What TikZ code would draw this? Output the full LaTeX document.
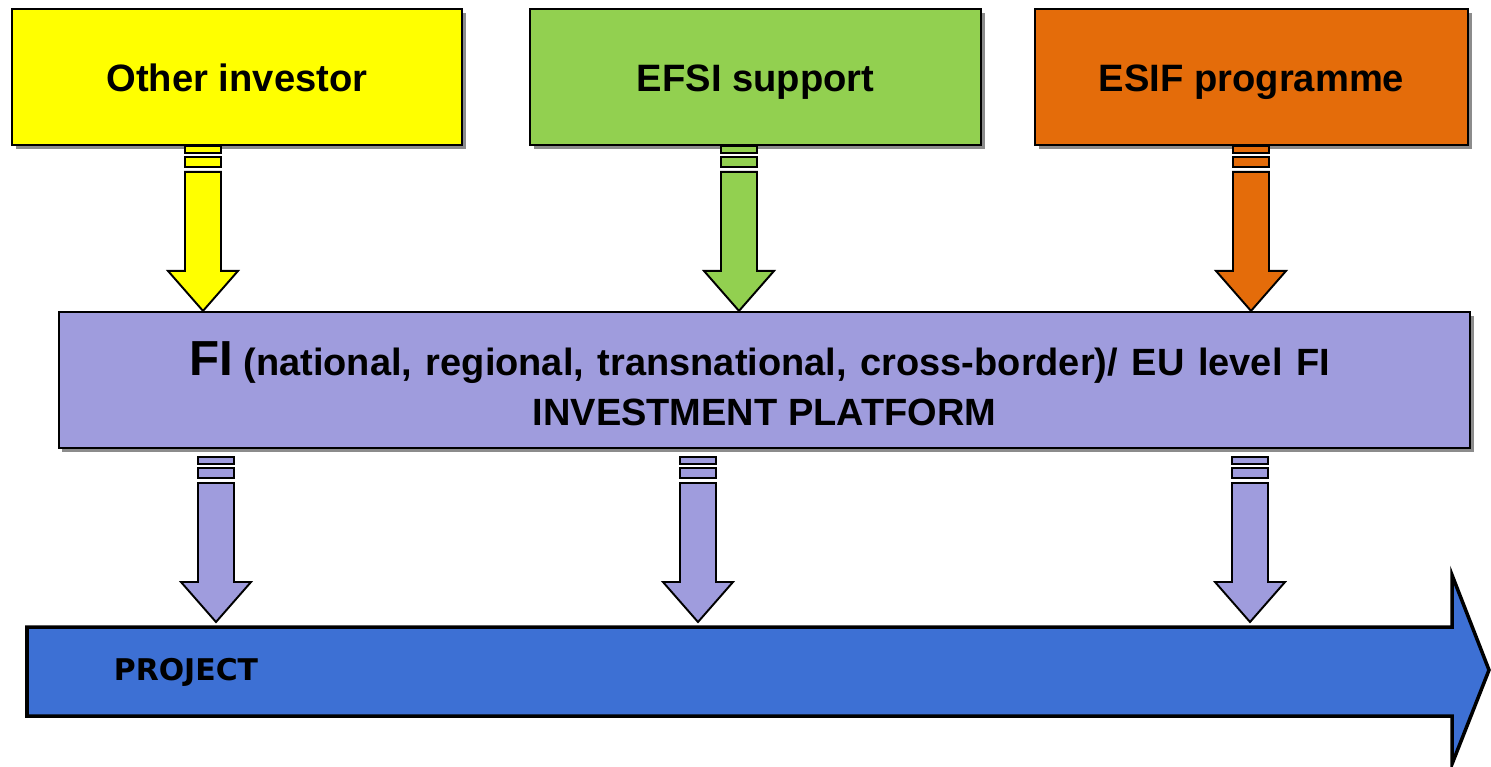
\documentclass[tikz,border=0pt]{standalone}
\usepackage{fontspec}
\setmainfont{Liberation Sans}
\newfontfamily\projfont{DejaVu Sans}
\usetikzlibrary{shadows}

\definecolor{investorcol}{RGB}{255,255,0}
\definecolor{efsicol}{RGB}{146,208,80}
\definecolor{esifcol}{RGB}{228,108,10}
\definecolor{platformcol}{RGB}{159,156,221}
\definecolor{projectcol}{RGB}{61,112,212}

\tikzset{
  pics/barrow/.style={code={
    \draw[flow, fill=#1] (-18,-165) rectangle (18,-158);
    \draw[flow, fill=#1] (-18,-154) rectangle (18,-144);
    \draw[flow, fill=#1] (-18,-139) -- (-18,-40) -- (-35,-40) -- (0,0)
      -- (35,-40) -- (18,-40) -- (18,-139) -- cycle;
  }}
}

\begin{document}
\begin{tikzpicture}[
  x=0.01cm, y=-0.01cm,
  source/.style={rectangle, draw, line width=0.6pt, minimum height=1.36cm,
                 font=\bfseries\fontsize{10.85}{13}\selectfont,
                 drop shadow={shadow xshift=1.1pt, shadow yshift=-1.1pt,
                              fill=black!45, opacity=1}},
  fixdepth/.style={text height=0.8em, text depth=0em},
  flow/.style={draw, line width=0.55pt, line join=miter}
]
\useasboundingbox (0,0) rectangle (1491,766);

\node[source, fixdepth, fill=investorcol, minimum width=4.5cm] (inv) at (237,77) {Other investor};
\node[source, fixdepth, fill=efsicol, minimum width=4.51cm] (efsi) at (755.5,77) {EFSI support};
\node[source, fixdepth, fill=esifcol, minimum width=4.33cm] (esif) at (1251.5,77) {ESIF programme};

\node[source, fill=platformcol, minimum width=14.11cm, align=center,
      font=\bfseries\fontsize{10.8}{14}\selectfont] (fi) at (764.5,380)
  {\rule{0pt}{11.8pt}{\fontsize{14}{14}\selectfont FI} \spaceskip=0.36em plus 0.1em
   (national, regional, transnational, cross-border)/ EU level FI\hspace*{2.8pt}\\
   INVESTMENT PLATFORM};

% project arrow
\draw[line width=1pt, line join=miter, fill=projectcol]
  (27,627) -- (1452,627) -- (1452,575) -- (1489,670) -- (1452,764)
  -- (1452,716) -- (27,716) -- cycle;
\coordinate (prjin) at (0,622);
\node[font=\projfont\bfseries\fontsize{8.5}{10}\selectfont] (prj) at (186,672) {PROJECT};

\foreach \x/\c in {203/investorcol, 739/efsicol, 1251/esifcol} {
  \pic at (\x,0 |- fi.north) {barrow=\c};
}
\foreach \x in {216, 698, 1250} {
  \pic at (\x,0 |- prjin) {barrow=platformcol};
}

\end{tikzpicture}
\end{document}
